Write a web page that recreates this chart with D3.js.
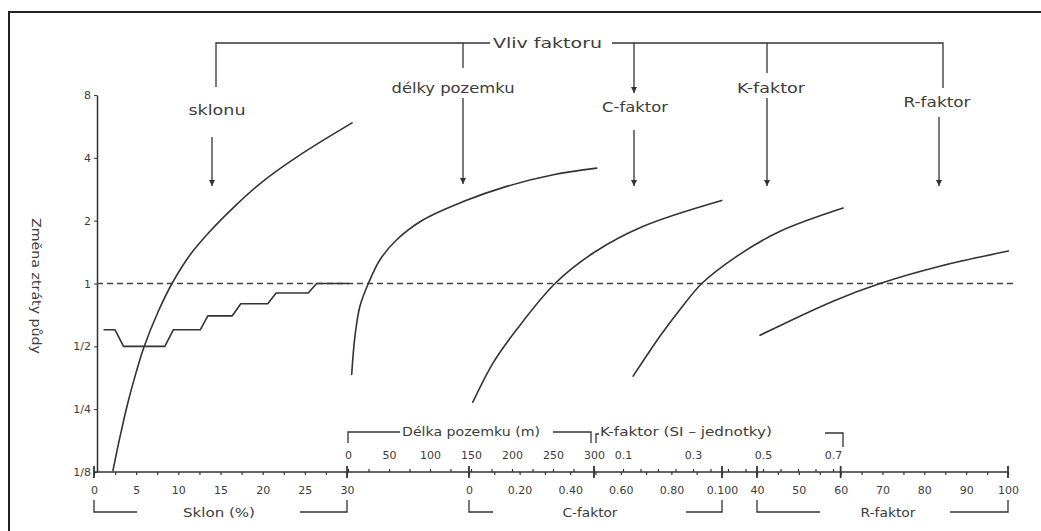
<!DOCTYPE html>
<html>
<head>
<meta charset="utf-8">
<script src="https://cdn.jsdelivr.net/npm/d3@7"></script>
<style>
  html, body { margin: 0; padding: 0; background: #fff; }
  svg { display: block; }
  text { font-family: "DejaVu Sans", Verdana, sans-serif; fill: #3c3c3c; }
</style>
</head>
<body>
<svg id="chart" width="1041" height="531"></svg>
<script>
// ---- Relative change of soil loss (log2 axis) ----
const yTicks = [1/8, 1/4, 1/2, 1, 2, 4, 8];
const yTickLabels = ["1/8", "1/4", "1/2", "1", "2", "4", "8"];

// Slope (%) → factor
const slopePct    = [2.25, 3.08, 4.03, 4.98, 5.93, 7.59, 9.25, 11.38, 13.76, 16.72, 19.92, 24.43, 30.6];
const slopeFactor = [0.127, 0.184, 0.270, 0.373, 0.496, 0.730, 1.0, 1.37, 1.78, 2.35, 3.06, 4.13, 5.88];

// Stepped slope relation
const stepPct    = [1.2, 2.5, 3.5, 8.4, 9.4, 12.6, 13.5, 16.4, 17.4, 20.6, 21.6, 25.4, 26.4, 30.2];
const stepFactor = [0.6, 0.6, 0.5, 0.5, 0.6, 0.6, 0.7, 0.7, 0.8, 0.8, 0.9, 0.9, 1.0, 1.0];

// Slope length (m) → factor
const lengthM      = [4.5, 8.5, 14.6, 24.8, 39, 59.4, 91.8, 140.6, 193.5, 250.4, 303.3];
const lengthFactor = [0.367, 0.56, 0.78, 1.0, 1.30, 1.62, 2.02, 2.47, 2.92, 3.32, 3.57];

// C-factor → factor
const cValue  = [0.0015, 0.0096, 0.0189, 0.034, 0.0491, 0.0689, 0.0999];
const cFactor = [0.27, 0.418, 0.603, 1.0, 1.40, 1.88, 2.50];

// K-factor (SI units) → factor
const kValue  = [0.129, 0.206, 0.263, 0.325, 0.425, 0.549, 0.729];
const kFactor = [0.36, 0.56, 0.75, 1.0, 1.35, 1.78, 2.30];

// R-factor → factor
const rValue  = [40.7, 58.2, 69.4, 83.7, 100.1];
const rFactor = [0.565, 0.823, 1.0, 1.21, 1.43];

// ---- Axis tick labels ----
const slopeTicks = [0, 5, 10, 15, 20, 25, 30];
const lengthTicks = [0, 50, 100, 150, 200, 250, 300];
const cTicks = [0, 0.02, 0.04, 0.06, 0.08, 0.1];
const cTickLabels = ["0", "0.20", "0.40", "0.60", "0.80", "0.100"];
const kTicks = [0.1, 0.3, 0.5, 0.7];
const kTickLabels = ["0.1", "0.3", "0.5", "0.7"];
const rTicks = [40, 50, 60, 70, 80, 90, 100];

// ---- Texts ----
const yTitle = "Změna ztráty půdy";
const topTitle = "Vliv faktoru";
const factorNames = ["sklonu", "délky pozemku", "C-faktor", "K-faktor", "R-faktor"];
const axisNames = ["Sklon (%)", "Délka pozemku (m)", "C-faktor", "K-faktor (SI – jednotky)", "R-faktor"];

// =====================================================================
const svg = d3.select("#chart");
const ink = "#333";
const axisY = 472;

const y = d3.scaleLog().base(2).domain([1/8, 8]).range([472, 95]);
const xS = d3.scaleLinear().domain([0, 30]).range([94, 347]);
const xL = d3.scaleLinear().domain([0, 300]).range([348, 594]);
const xC = d3.scaleLinear().domain([0, 0.1]).range([469, 722]);
const xK = d3.scaleLinear().domain([0.1, 0.7]).range([623, 833]);
const xR = d3.scaleLinear().domain([40, 100]).range([757, 1008]);

// frame (top + left edges)
svg.append("path").attr("d", "M9,531V12H1041")
  .attr("fill", "none").attr("stroke", "#222").attr("stroke-width", 2);

// arrow marker (tip at the line end, pointing along the line)
svg.append("defs").append("marker")
  .attr("id", "arr").attr("viewBox", "0 0 10 10").attr("refX", 10).attr("refY", 5)
  .attr("markerWidth", 7).attr("markerHeight", 6).attr("orient", "auto")
  .attr("markerUnits", "userSpaceOnUse")
  .append("path").attr("d", "M0,0L10,5L0,10Z").attr("fill", ink);

// ---- y axis ----
const yAxis = svg.append("g").attr("transform", "translate(97,0)")
  .call(d3.axisLeft(y).tickValues(yTicks).tickFormat((d, i) => yTickLabels[i])
    .tickSize(3).tickSizeOuter(0).tickPadding(3));
yAxis.select(".domain").attr("stroke", ink).attr("stroke-width", 1.5);
yAxis.selectAll(".tick line").attr("stroke", ink);
yAxis.selectAll("text").style("font-size", "11px").attr("fill", "#3c3c3c");

svg.append("text").text(yTitle)
  .attr("transform", "translate(37,286) rotate(90)")
  .attr("text-anchor", "middle").attr("dy", "0.35em")
  .style("font-size", "13px")
  .attr("textLength", 136).attr("lengthAdjust", "spacingAndGlyphs");

// ---- reference line at factor 1 ----
svg.append("line")
  .attr("x1", 97).attr("x2", xR(101.2))
  .attr("y1", y(1)).attr("y2", y(1))
  .attr("stroke", "#444").attr("stroke-width", 1.3).attr("stroke-dasharray", "6,4");

// ---- combined x axes ----
svg.append("line").attr("x1", xS(0)).attr("x2", xR(100))
  .attr("y1", axisY).attr("y2", axisY).attr("stroke", ink).attr("stroke-width", 1.5);

function minorTicks(axisFn, scale, values) {
  const g = svg.append("g").attr("transform", `translate(0,${axisY})`)
    .call(axisFn(scale).tickValues(values).tickFormat("").tickSize(3).tickSizeOuter(0));
  g.select(".domain").remove();
  g.selectAll(".tick line").attr("stroke", ink).attr("stroke-width", 1.2);
}
minorTicks(d3.axisBottom, xS, d3.range(0, 30.01, 2.5));
minorTicks(d3.axisTop, xL, d3.range(0, 300.1, 25));
minorTicks(d3.axisBottom, xC, d3.range(0, 0.1001, 0.01));
minorTicks(d3.axisTop, xK, d3.range(0.1, 0.701, 0.05));
minorTicks(d3.axisBottom, xR, d3.range(40, 100.1, 5));

// major crossing ticks at the ends of each scale
const majorX = [xS(0), xS(30), xC(0), xL(300), xC(0.1), xR(40), xR(60), xR(100)];
svg.append("g").selectAll("line").data(majorX).join("line")
  .attr("x1", d => d).attr("x2", d => d)
  .attr("y1", axisY - 6).attr("y2", axisY + 6)
  .attr("stroke", ink).attr("stroke-width", 1.8);

function tickLabels(axisFn, scale, values, labels, pad) {
  const g = svg.append("g").attr("transform", `translate(0,${axisY})`)
    .call(axisFn(scale).tickValues(values)
      .tickFormat((d, i) => labels ? labels[i] : String(d))
      .tickSize(0).tickPadding(pad));
  g.select(".domain").remove();
  g.selectAll("text").style("font-size", "11px").attr("fill", "#3c3c3c");
}
tickLabels(d3.axisBottom, xS, slopeTicks, null, 14);
tickLabels(d3.axisTop, xL, lengthTicks, null, 13);
tickLabels(d3.axisBottom, xC, cTicks, cTickLabels, 14);
tickLabels(d3.axisTop, xK, kTicks, kTickLabels, 13);
tickLabels(d3.axisBottom, xR, rTicks, null, 14);

// ---- axis brackets and names ----
const br = svg.append("g").attr("fill", "none").attr("stroke", ink).attr("stroke-width", 1.3);
// below: slope, C-factor, R-factor
br.append("path").attr("d", `M${xS(0)},500V512H137`);
br.append("path").attr("d", `M300,512H${xS(30)}V500`);
br.append("path").attr("d", `M${xC(0)},500V512H493`);
br.append("path").attr("d", `M686,512H${xC(0.1)}V500`);
br.append("path").attr("d", `M${xR(40)},500V512H820`);
br.append("path").attr("d", `M950,512H${xR(100)}V500`);
// above: length, K-factor
br.append("path").attr("d", `M${xL(0)},443V432H400`);
br.append("path").attr("d", `M553,432H${xL(300) - 3}V443`);
br.append("path").attr("d", `M${xL(300) + 2},443V434H599`);
br.append("path").attr("d", `M825,433H843V447`);

const axisNameLayout = [
  { x: 219, y: 513, w: 72 },
  { x: 471, y: 432, w: 138 },
  { x: 590, y: 513, w: 55 },
  { x: 686, y: 432, w: 172 },
  { x: 888, y: 513, w: 55 }
];
svg.append("g").selectAll("text").data(axisNames).join("text")
  .text(d => d)
  .attr("x", (d, i) => axisNameLayout[i].x)
  .attr("y", (d, i) => axisNameLayout[i].y)
  .attr("dy", "0.35em").attr("text-anchor", "middle")
  .style("font-size", "12px")
  .attr("textLength", (d, i) => axisNameLayout[i].w)
  .attr("lengthAdjust", "spacingAndGlyphs");

// ---- factor annotation tree ----
const tree = svg.append("g").attr("fill", "none").attr("stroke", ink).attr("stroke-width", 1.3);
tree.append("path").attr("d", "M216,87V43H490");
tree.append("path").attr("d", "M612,43H943V88");
tree.append("path").attr("d", "M463,43V68");
tree.append("path").attr("d", "M767,43V73");
tree.append("path").attr("d", "M634,43V93").attr("marker-end", "url(#arr)");

svg.append("text").text(topTitle)
  .attr("x", 547.5).attr("y", 43).attr("dy", "0.35em").attr("text-anchor", "middle")
  .style("font-size", "14px")
  .attr("textLength", 109).attr("lengthAdjust", "spacingAndGlyphs");

const factorLayout = [
  { x: 217, y: 110, w: 57, ax: 212, a0: 137, a1: 186 },
  { x: 453, y: 88,  w: 123, ax: 463, a0: 98,  a1: 184 },
  { x: 635, y: 107, w: 66, ax: 634, a0: 130, a1: 186 },
  { x: 771, y: 88,  w: 68, ax: 767, a0: 98,  a1: 186 },
  { x: 937, y: 102, w: 67, ax: 939, a0: 117, a1: 186 }
];
svg.append("g").selectAll("text").data(factorNames).join("text")
  .text(d => d)
  .attr("x", (d, i) => factorLayout[i].x)
  .attr("y", (d, i) => factorLayout[i].y)
  .attr("dy", "0.35em").attr("text-anchor", "middle")
  .style("font-size", "14px")
  .attr("textLength", (d, i) => factorLayout[i].w)
  .attr("lengthAdjust", "spacingAndGlyphs");
tree.selectAll(".arrow").data(factorLayout).join("line").attr("class", "arrow")
  .attr("x1", d => d.ax).attr("x2", d => d.ax)
  .attr("y1", d => d.a0).attr("y2", d => d.a1)
  .attr("marker-end", "url(#arr)");

// ---- curves ----
const zip = (a, b) => a.map((v, i) => [v, b[i]]);
function curve(xScale, xs, ys, smooth) {
  const gen = d3.line().x(d => xScale(d[0])).y(d => y(d[1]))
    .curve(smooth ? d3.curveCatmullRom.alpha(0.5) : d3.curveLinear);
  svg.append("path").attr("d", gen(zip(xs, ys)))
    .attr("fill", "none").attr("stroke", ink).attr("stroke-width", 1.6)
    .attr("stroke-linejoin", "round").attr("stroke-linecap", "round");
}
curve(xS, slopePct, slopeFactor, true);
curve(xS, stepPct, stepFactor, false);
curve(xL, lengthM, lengthFactor, true);
curve(xC, cValue, cFactor, true);
curve(xK, kValue, kFactor, true);
curve(xR, rValue, rFactor, true);
</script>
</body>
</html>
